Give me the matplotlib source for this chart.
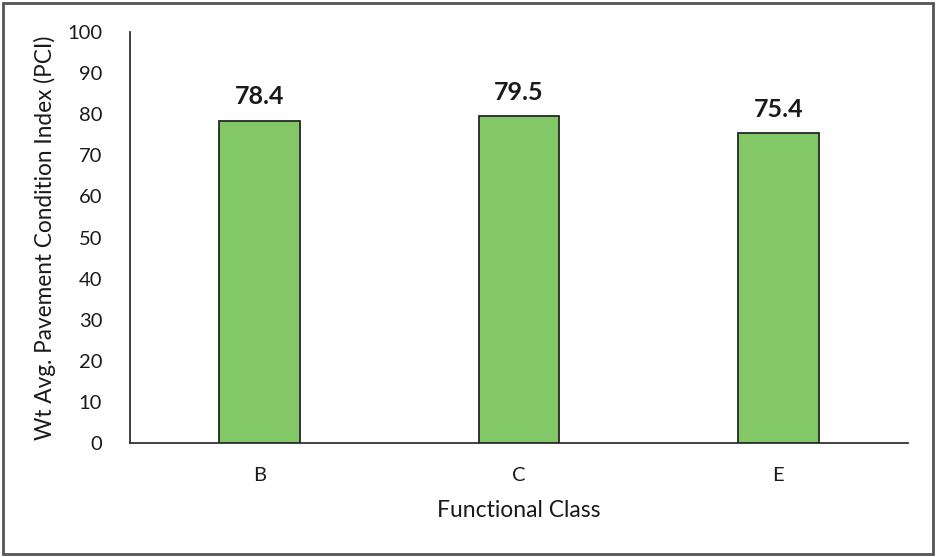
import matplotlib
matplotlib.use("Agg")
import matplotlib.pyplot as plt
from matplotlib.patches import Rectangle

plt.rcParams['font.family'] = ['Lato', 'DejaVu Sans']

categories = ["B", "C", "E"]
values = [78.4, 79.5, 75.4]
y_ticks = [0, 10, 20, 30, 40, 50, 60, 70, 80, 90, 100]

fig = plt.figure(figsize=(9.36, 5.57), dpi=100)
ax = fig.add_axes([0.1389, 0.2047, 0.8312, 0.7378])

x = range(len(categories))
ax.bar(x, values, width=0.31, color="#82c866", edgecolor="#262626", linewidth=1.3, zorder=3)

for xi, v in zip(x, values):
    ax.annotate(f"{v:.1f}", xy=(xi, v), xytext=(0, 9), textcoords="offset points",
                ha="center", va="bottom", fontsize=18, fontweight="bold", color="#1a1a1a")

ax.set_xlim(-0.5, 2.5)
ax.set_ylim(0, 100)
ax.set_yticks(y_ticks)
ax.set_xticks(list(x))
ax.set_xticklabels(categories)
ax.tick_params(axis="both", length=0, labelsize=14.5, colors="#1a1a1a")
ax.tick_params(axis="y", pad=20)
ax.tick_params(axis="x", pad=17)

for side in ["top", "right"]:
    ax.spines[side].set_visible(False)
for side in ["left", "bottom"]:
    ax.spines[side].set_color("#333333")
    ax.spines[side].set_linewidth(1.3)

ax.set_ylabel("Wt Avg. Pavement Condition Index (PCI)", fontsize=16.3, color="#1a1a1a", labelpad=8)
ax.set_xlabel("Functional Class", fontsize=16.5, color="#1a1a1a", labelpad=12)

fig.patches.append(Rectangle((0.003, 0.005), 0.994, 0.99, transform=fig.transFigure,
                             fill=False, edgecolor="#555555", linewidth=2))

fig.savefig("out.png", dpi=100)
